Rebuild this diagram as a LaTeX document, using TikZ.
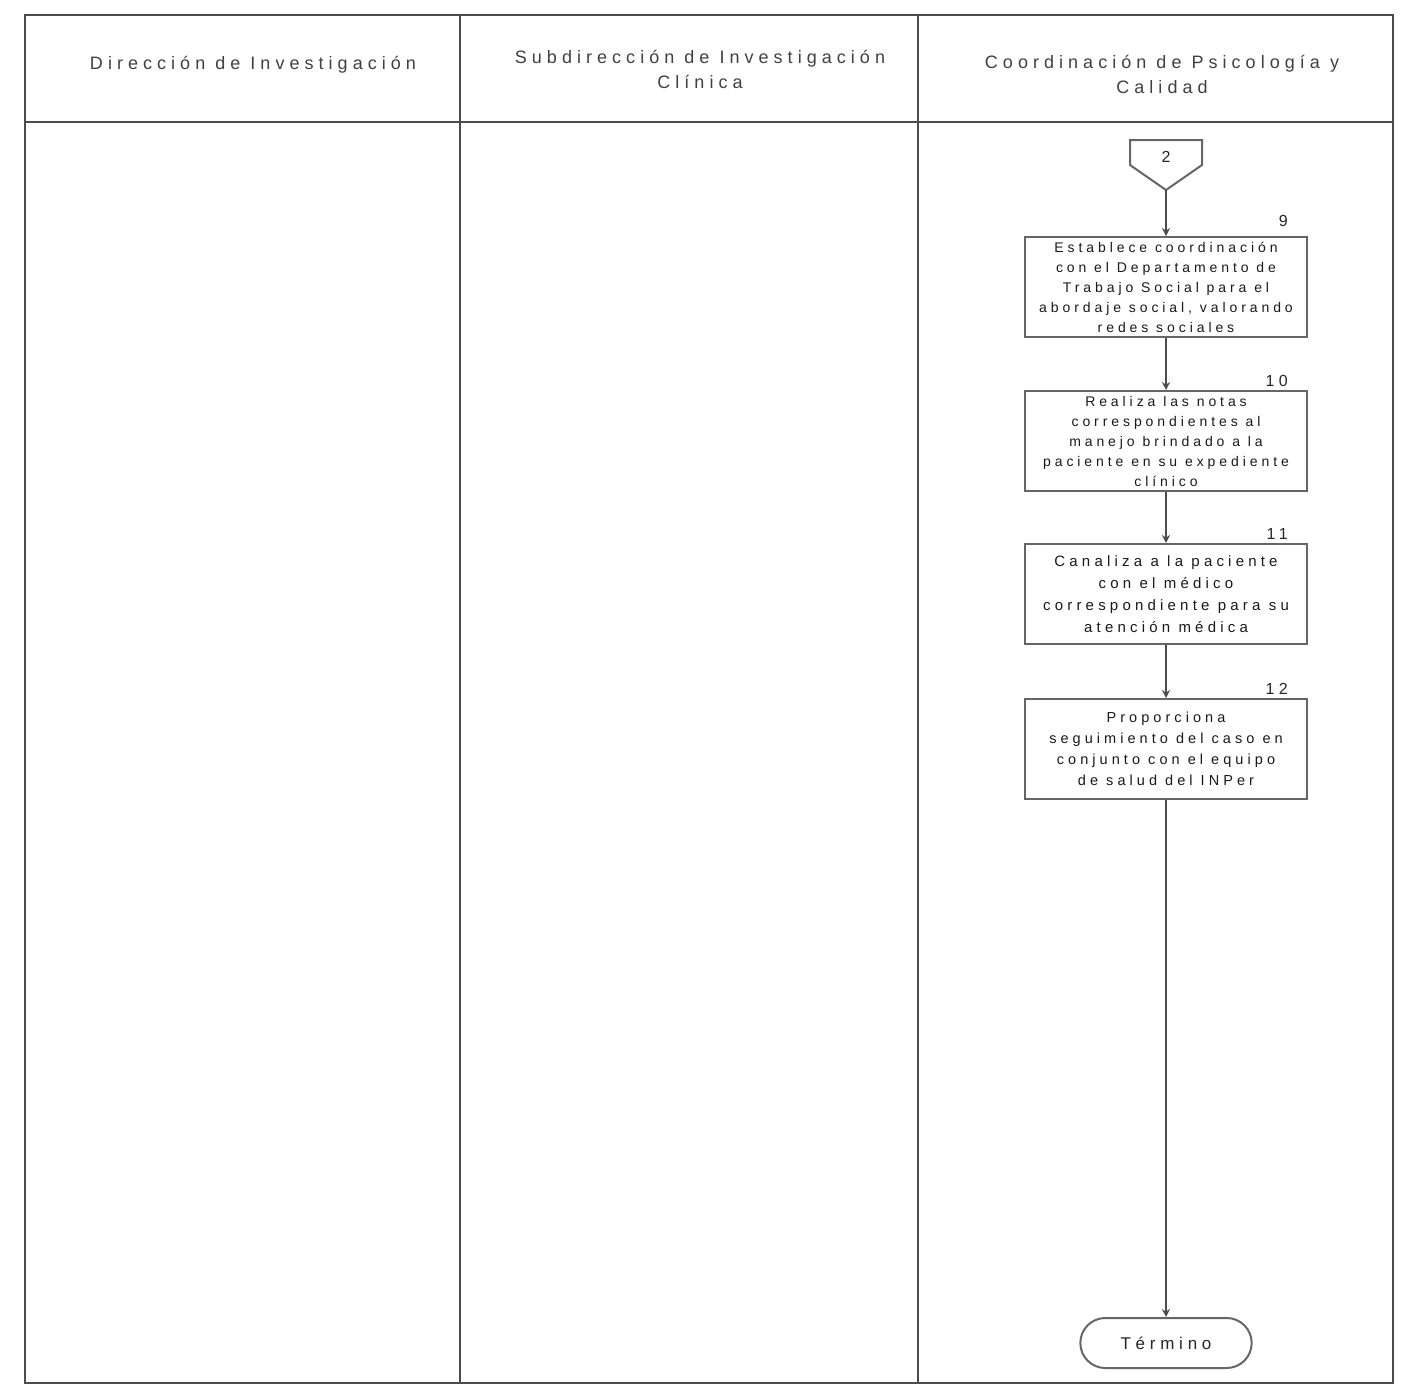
\documentclass[tikz,border=0pt]{standalone}
\usepackage{fontspec}
\setmainfont{Liberation Sans}
\newfontfamily\spaced[LetterSpace=28]{Liberation Sans}
\usepackage{tikz}
\usetikzlibrary{shapes.misc,positioning,arrows.meta}

\tikzset{
  lane/.style={draw=black!70,line width=2.5pt},
  head/.style={align=center,text=black!75,font=\spaced\fontsize{18}{25}\selectfont},
  act/.style={draw=black!60,line width=2pt,minimum width=282pt,minimum height=100pt,
    align=center,inner sep=2pt,text=black!90,
    font=\spaced\fontsize{14}{20}\selectfont},
  num/.style={anchor=south east,inner sep=0pt,text=black!85,font=\spaced\fontsize{16}{16}\selectfont},
  flow/.style={->,draw=black!70,line width=1.6pt}
}

\begin{document}
\begin{tikzpicture}[x=1pt,y=-1pt,>={Stealth[length=8pt,width=8pt]}]
\useasboundingbox (0,0) rectangle (1411,1387);

% carriles
\draw[lane] (25,15) rectangle (1393,1383);
\draw[lane] (25,122) -- (1393,122);
\draw[lane] (460,15) -- (460,1383);
\draw[lane] (918,15) -- (918,1383);

\node[head] (h1) at (253,65) {Dirección de Investigación};
\node[head] (h2) at (700,69) {Subdirección de Investigación\\Clínica};
\node[head] (h3) at (1162,74) {Coordinación de Psicología y\\Calidad};

% conector 2
\draw[draw=black!60,line width=2pt] (1130,140) -- (1202,140) -- (1202,165) -- (1166,190) -- (1130,165) -- cycle;
\node[text=black!85,font=\spaced\fontsize{16}{16}\selectfont] (c2) at (1166,157) {2};
\coordinate (c2b) at (1166,190);

% actividades
\node[act] (a9) at (1166,287) {Establece coordinación\\con el Departamento de\\Trabajo Social para el\\abordaje social, valorando\\redes sociales};
\node[act] (a10) at (1166,441) {Realiza las notas\\correspondientes al\\manejo brindado a la\\paciente en su expediente\\clínico};
\node[act,font=\spaced\fontsize{15}{22}\selectfont] (a11) at (1166,594) {Canaliza a la paciente\\con el médico\\correspondiente para su\\atención médica};
\node[act,font=\spaced\fontsize{14.5}{21}\selectfont] (a12) at (1166,749) {Proporciona\\seguimiento del caso en\\conjunto con el equipo\\de salud del INPer};

\node[num] (n9) at ([xshift=-20pt,yshift=9pt]a9.north east) {9};
\node[num] (n10) at ([xshift=-20pt,yshift=3pt]a10.north east) {10};
\node[num] (n11) at ([xshift=-20pt,yshift=3pt]a11.north east) {11};
\node[num] (n12) at ([xshift=-20pt,yshift=3pt]a12.north east) {12};

\node[draw=black!60,line width=2pt,rounded rectangle,minimum width=178pt,minimum height=50pt,
  text=black!85,font=\spaced\fontsize{17}{17}\selectfont] (fin) at (1166,1343) {Término};

\draw[flow] (c2b) -- (a9);
\draw[flow] (a9) -- (a10);
\draw[flow] (a10) -- (a11);
\draw[flow] (a11) -- (a12);
\draw[flow] (a12) -- (fin);
\end{tikzpicture}
\end{document}
